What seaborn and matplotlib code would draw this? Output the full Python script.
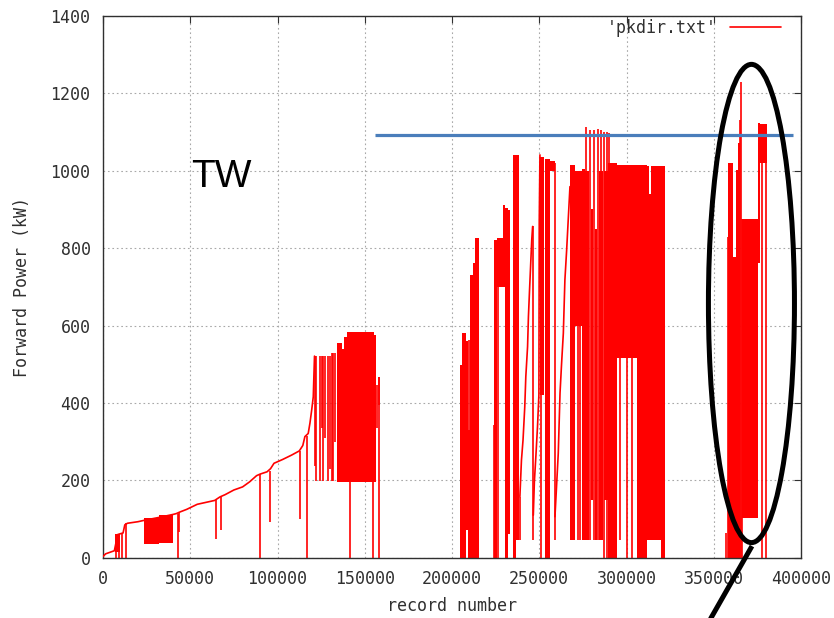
"""
Forward power vs record number (gnuplot style), with TW marker and highlight ellipse.
"""

import numpy as np
import pandas as pd
import seaborn as sns
import matplotlib.pyplot as plt
from matplotlib.patches import Ellipse

# Data

# continuous part of the trace (0 - 121k records)
trend_x = [0, 1500, 4000, 6500, 7500, 8500, 10000, 11500, 12500, 14000, 20000, 24000,
           32000, 40300, 42000, 44000, 48000, 54000, 58000, 64000, 67000, 70000, 75000,
           80000, 84000, 88000, 90000, 94000, 96000, 98000, 103000, 108000, 112500,
           114500, 115700, 117600, 118600, 119600, 120500, 121200]
trend_y = [3, 10, 14, 18, 40, 60, 62, 64, 85, 89, 93, 97,
           104, 112, 114, 118, 125, 138, 142, 148, 157, 163, 175,
           183, 196, 212, 216, 222, 230, 244, 254, 265, 276,
           290, 313, 321, 348, 382, 416, 521]

# staircase ramps in the 240k - 268k range
ramp1_x = [238900, 239800, 240700, 241700, 242300, 243300, 243800, 244400, 245700, 246200]
ramp1_y = [158, 252, 304, 390, 468, 545, 623, 688, 821, 856]
ramp2_x = [246600, 247200, 248100, 249000, 249800, 250000, 250400]
ramp2_y = [110, 196, 265, 339, 421, 869, 1041]
ramp3_x = [259000, 260000, 260900, 261900, 262800, 263800, 264700, 265700, 266600, 267600]
ramp3_y = [106, 192, 270, 425, 502, 580, 718, 795, 873, 959]

# densely oscillating stretches, seen as solid red blocks
block_start = [7000, 23700, 32000,
               133900, 137000, 138300, 140000, 155500,
               204500, 205500, 207800, 209300, 210300, 212000, 213200,
               224300, 225600, 229400, 230300, 232300, 234800, 236500, 250400, 253300,
               256100, 267600, 270500, 274300, 276200, 279500, 281800, 284000, 287200,
               289600, 294400, 305800, 311500, 313000, 314000, 320000,
               358400, 361200, 362700, 364000, 366000, 375500, 376500]
block_end = [9800, 32000, 40300,
             137000, 138300, 140000, 155500, 156400,
             205500, 207800, 209300, 210300, 212000, 213200, 215300,
             225600, 229400, 230300, 232300, 233400, 236500, 238600, 252500, 256100,
             258800, 270500, 274300, 276200, 278500, 281000, 283000, 286500, 289600,
             294400, 305800, 311500, 313000, 314000, 320000, 322000,
             361200, 362700, 364000, 365000, 375500, 376500, 380300]
block_low = [15, 36, 39,
             195, 195, 195, 195, 195,
             0, 0, 72, 0, 0, 0, 0,
             0, 700, 700, 0, 60, 0, 46, 420, 0,
             1000, 46, 600, 46, 46, 150, 46, 46, 150,
             0, 516, 0, 46, 46, 46, 0,
             0, 0, 0, 0, 102, 762, 1019]
block_high = [62, 102, 110,
              554, 539, 571, 584, 576,
              498, 582, 560, 330, 731, 761, 826,
              821, 826, 911, 905, 898, 1041, 1041, 1035, 1030,
              1025, 1015, 1000, 1005, 1000, 900, 850, 1000, 1000,
              1020, 1015, 1015, 1012, 940, 1012, 1012,
              1019, 778, 1002, 1071, 875, 1123, 1121]

# single drop-outs / spikes
spike_x = [7400, 9000, 11000, 12900, 42800, 43300, 64700, 67500, 89800, 95700, 112900, 116700,
           121500, 122000, 124300, 125300, 126200, 127200, 129100, 130100, 131000, 132000,
           132900, 141500, 155000, 157200, 158000, 158400,
           209800, 224200, 226200, 238900, 246600, 250800, 258800, 272000, 273300,
           276600, 279100, 281400, 283500, 285200, 286900, 288600, 290100,
           296000, 300000, 303300,
           357000, 358000, 365200, 365800, 366000, 377400, 379900]
spike_low = [0, 0, 0, 0, 0, 67, 48, 72, 0, 93, 100, 0,
             236, 197, 197, 336, 197, 310, 197, 230, 197, 197,
             300, 0, 0, 335, 395, 0,
             0, 0, 0, 46, 46, 0, 46, 46, 46,
             46, 46, 46, 46, 46, 0, 0, 0,
             46, 0, 0,
             0, 0, 0, 0, 0, 0, 0]
spike_high = [62, 62, 64, 89, 114, 118, 148, 157, 216, 225, 276, 315,
              521, 521, 521, 521, 521, 521, 521, 521, 530, 530,
              530, 195, 195, 447, 468, 468,
              563, 343, 700, 158, 856, 1035, 1020, 1000, 1000,
              1114, 1105, 1105, 1108, 1105, 1100, 1100, 1097,
              1015, 615, 615,
              64, 830, 1131, 1230, 875, 1019, 1019]

# reference level drawn in blue
ref_level = 1093
ref_start = 155900
ref_end = 395400

RED = '#ff0000'

# Plot

sns.set_style('white')
plt.rcParams['font.family'] = ['DejaVu Sans Mono', 'DejaVu Sans']

fig = plt.figure(figsize=(8.34, 6.18), dpi=100)
ax = fig.add_axes([103 / 834, 1 - 557.7 / 618, 698 / 834, 541.7 / 618])

ax.bar(block_start, np.array(block_high) - np.array(block_low), bottom=block_low,
       width=np.array(block_end) - np.array(block_start), align='edge',
       color=RED, linewidth=0, zorder=2)
ax.vlines(spike_x, spike_low, spike_high, color=RED, linewidth=1.2, zorder=2)

sns.lineplot(x=trend_x, y=trend_y, ax=ax, color=RED, linewidth=1.2, sort=False,
             estimator=None, label="'pkdir.txt'", zorder=3)
for rx, ry in [(ramp1_x, ramp1_y), (ramp2_x, ramp2_y), (ramp3_x, ramp3_y)]:
    sns.lineplot(x=rx, y=ry, ax=ax, color=RED, linewidth=1.2, sort=False,
                 estimator=None, zorder=3)

ax.hlines(ref_level, ref_start, ref_end, color='#4a7ebb', linewidth=2.3, zorder=4)

# axes look
ax.set_xlim(0, 400000)
ax.set_ylim(0, 1400)
ax.set_xticks(np.arange(0, 400001, 50000))
ax.set_yticks(np.arange(0, 1401, 200))
ax.tick_params(direction='in', length=5, width=0.8, top=True, right=True,
               labelsize=12, colors='#303030', pad=9)
ax.grid(True, color='#a8a8a8', linestyle=(0, (1.5, 2.5)), linewidth=0.8)
ax.set_axisbelow(True)
for s in ax.spines.values():
    s.set_color('#303030')
    s.set_linewidth(1.0)

ax.set_xlabel('record number', fontsize=12, color='#303030', labelpad=6)
ax.set_ylabel('Forward Power (kW)', fontsize=12, color='#303030', labelpad=14)

leg = ax.legend(loc='upper right', bbox_to_anchor=(0.972, 0.995), frameon=False,
                markerfirst=False, handlelength=3.1, handletextpad=0.8,
                borderaxespad=0, borderpad=0, fontsize=12)
for t in leg.get_texts():
    t.set_color('#303030')

# annotations
ax.text(50400, 958, 'TW', fontfamily='Liberation Sans', fontsize=28, color='black',
        ha='left', va='baseline')
ax.add_patch(Ellipse((371600, 657), 49300, 1236, fill=False, edgecolor='black',
                     linewidth=3.6, zorder=6, clip_on=False))
ax.plot([371900, 346000], [30, -175], color='black', linewidth=3.6, zorder=6,
        clip_on=False, solid_capstyle='butt')

plt.savefig('out.png', dpi=100)
